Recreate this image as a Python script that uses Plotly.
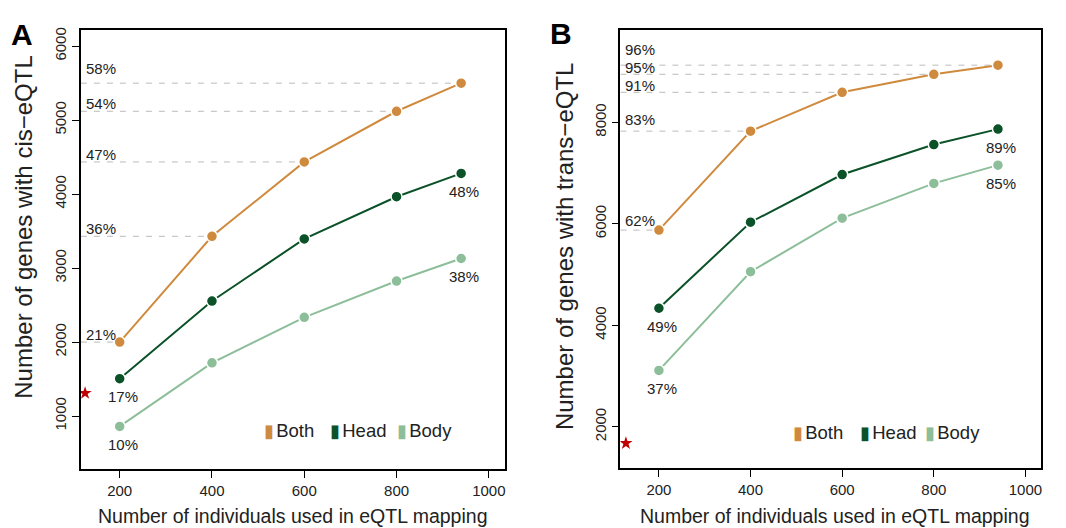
import plotly.graph_objects as go

# ---------------- data ----------------
n_individuals = [200, 400, 600, 800, 940]

cis_both = [2000, 3430, 4435, 5120, 5500]
cis_head = [1505, 2555, 3395, 3965, 4280]
cis_body = [860, 1720, 2335, 2825, 3130]
cis_both_pct = ["21%", "36%", "47%", "54%", "58%"]
cis_head_pct = ["17%", "48%"]      # first and last point
cis_body_pct = ["10%", "38%"]

trans_both = [5875, 7825, 8590, 8945, 9125]
trans_head = [4335, 6030, 6970, 7560, 7865]
trans_body = [3110, 5055, 6110, 6795, 7155]
trans_both_pct = ["62%", "83%", "91%", "95%", "96%"]
trans_head_pct = ["49%", "89%"]
trans_body_pct = ["37%", "85%"]

prev_cis_x, prev_cis_y = [125], [1310]
prev_trans_x, prev_trans_y = [128], [1675]

series_names = ["Both", "Head", "Body"]
x_ticks = [200, 400, 600, 800, 1000]
cis_ticks = [1000, 2000, 3000, 4000, 5000, 6000]
trans_ticks = [2000, 4000, 6000, 8000]
x_title = "Number of individuals used in eQTL mapping"
y_title_cis = "Number of genes with cis−eQTL"
y_title_trans = "Number of genes with trans−eQTL"

# ---------------- style ----------------
COL = {"Both": "#D08A3E", "Head": "#0B5228", "Body": "#8DBE9A"}
FONT = "Liberation Sans, Arial, Helvetica, sans-serif"
TXT = "#222222"
OFF = 8                      # page body margin of the html page
W, H = 1066 - OFF, 528 - OFF
XR = [116, 1034]
YR_A = [280, 6220]
YR_B = [1180, 9820]
# pixel offsets of the "Both" percentage labels above their dashed lines
shift_A = [7.5, 8, 7.5, 8, 15]
shift_B = [9.7, 11.5, 7, 6.7, 15.7]


def px(x):
    return (x - OFF) / W


def py(y):
    return 1 - (y - OFF) / H


fig = go.Figure()


def add_panel(xa, ya, both, head, body, both_pct, head_pct, body_pct,
              prx, pry, shifts):
    # dashed guide lines for "Both"
    for xv, yv in zip(n_individuals, both):
        fig.add_trace(go.Scatter(
            x=[XR[0], xv], y=[yv, yv], mode="lines", xaxis=xa, yaxis=ya,
            line=dict(color="#BBBBBB", width=1, dash="6px,7px"),
            showlegend=False, hoverinfo="skip"))
    for name, vals in zip(series_names, [both, head, body]):
        fig.add_trace(go.Scatter(
            x=n_individuals, y=vals, mode="lines+markers", name=name,
            xaxis=xa, yaxis=ya,
            line=dict(color=COL[name], width=2),
            marker=dict(color=COL[name], size=11,
                        line=dict(color="white", width=1.5)),
            showlegend=False))
    fig.add_trace(go.Scatter(
        x=prx, y=pry, mode="markers", xaxis=xa, yaxis=ya,
        marker=dict(color="#C00000", size=10, symbol="star"),
        showlegend=False))
    # percentage labels
    for yv, t, s in zip(both, both_pct, shifts):
        fig.add_annotation(x=XR[0], y=yv, xref=xa, yref=ya, text=t,
                           showarrow=False, xanchor="left", yanchor="middle",
                           xshift=3, yshift=s,
                           font=dict(family=FONT, size=15, color=TXT))
    for vals, pcts in [(head, head_pct), (body, body_pct)]:
        for idx, t in zip([0, len(vals) - 1], pcts):
            fig.add_annotation(x=n_individuals[idx], y=vals[idx],
                               xref=xa, yref=ya, text=t,
                               showarrow=False, xanchor="center",
                               yanchor="middle", xshift=3, yshift=-18,
                               font=dict(family=FONT, size=15, color=TXT))


add_panel("x", "y", cis_both, cis_head, cis_body, cis_both_pct,
          cis_head_pct, cis_body_pct, prev_cis_x, prev_cis_y, shift_A)
add_panel("x2", "y2", trans_both, trans_head, trans_body, trans_both_pct,
          trans_head_pct, trans_body_pct, prev_trans_x, prev_trans_y, shift_B)

# legends drawn as text keys
legend_A = [265, 331.7, 398]
legend_B = [795, 861.7, 926.7]
for xs, yy in [(legend_A, 430), (legend_B, 432)]:
    for name, xp in zip(series_names, xs):
        fig.add_annotation(
            x=px(xp), y=py(yy), xref="paper", yref="paper",
            text=(f"<span style='color:{COL[name]};font-size:18px'>▮</span>"
                  f"<span style='font-size:8px'> </span>{name}"),
            showarrow=False, xanchor="left", yanchor="middle", xshift=-3,
            font=dict(family=FONT, size=18.5, color=TXT))

# panel letters
for letter, xp, yp in [("A", 22.5, 31.5), ("B", 561.7, 31)]:
    fig.add_annotation(x=px(xp), y=py(yp), xref="paper", yref="paper",
                       text=f"<b>{letter}</b>", showarrow=False,
                       xanchor="center", yanchor="middle",
                       font=dict(family=FONT, size=30, color="black"))

# axis titles
for ttl, xp, yp in [(y_title_cis, 24, 225), (y_title_trans, 565, 244)]:
    fig.add_annotation(x=px(xp), y=py(yp), xref="paper", yref="paper",
                       text=ttl, textangle=-90, showarrow=False,
                       xanchor="center", yanchor="middle",
                       font=dict(family=FONT, size=24, color=TXT))
for xp in [293, 836]:
    fig.add_annotation(x=px(xp), y=py(515.5), xref="paper", yref="paper",
                       text=x_title, showarrow=False,
                       xanchor="center", yanchor="middle",
                       font=dict(family=FONT, size=19.5, color=TXT))

axis_common = dict(showline=True, mirror=True, linecolor="black", linewidth=1.5,
                   ticks="outside", ticklen=7, tickwidth=1.2, tickcolor="black",
                   showgrid=False, zeroline=False,
                   tickfont=dict(family=FONT, size=15, color=TXT))

fig.update_layout(
    width=W, height=H, margin=dict(l=0, r=0, t=0, b=0),
    paper_bgcolor="white", plot_bgcolor="white", showlegend=False,
    xaxis=dict(domain=[px(81), px(505)], range=XR, tickvals=x_ticks,
               anchor="y", **axis_common),
    yaxis=dict(domain=[py(469), py(27)], range=YR_A, tickvals=cis_ticks,
               tickangle=-90, anchor="x", **axis_common),
    xaxis2=dict(domain=[px(621), px(1042)], range=XR, tickvals=x_ticks,
                anchor="y2", **axis_common),
    yaxis2=dict(domain=[py(468), py(27)], range=YR_B, tickvals=trans_ticks,
                tickangle=-90, anchor="x2", **axis_common),
)

fig.write_html("out.html")
